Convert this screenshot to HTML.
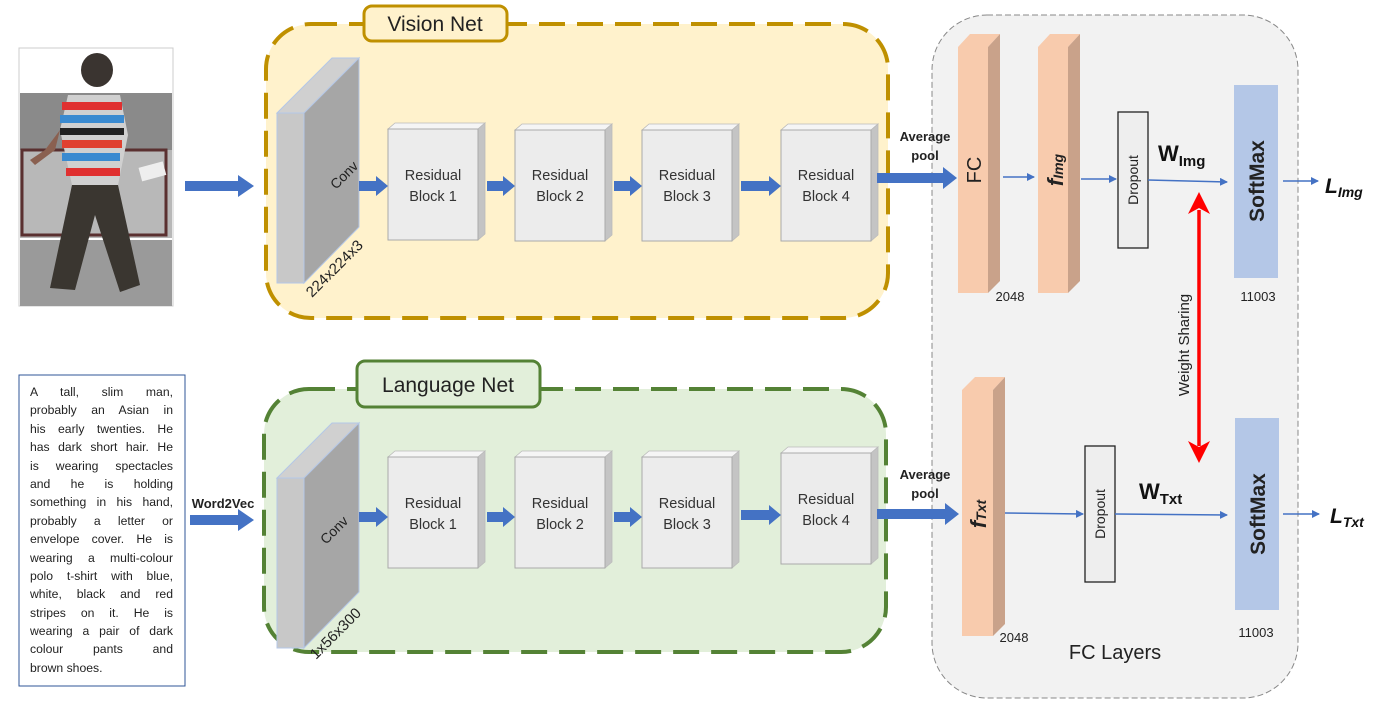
<!DOCTYPE html>
<html><head><meta charset="utf-8"><style>
html,body{margin:0;padding:0;background:#fff;width:1383px;height:703px;overflow:hidden;position:relative}
svg text{font-family:"Liberation Sans",sans-serif}
#tb{position:absolute;left:30px;top:383px;width:143px;font-family:"Liberation Sans",sans-serif;font-size:12.2px;line-height:18.4px;color:#222}
#tb div{text-align:justify;text-align-last:justify;white-space:nowrap;height:18.4px}
#tb div.l{text-align-last:left}
</style></head><body>
<svg width="1383" height="703" viewBox="0 0 1383 703" xmlns="http://www.w3.org/2000/svg" style="position:absolute;left:0;top:0">
<defs>
<marker id="ab" markerWidth="8" markerHeight="8" refX="7" refY="4" orient="auto" markerUnits="userSpaceOnUse"><path d="M0,0 L8,4 L0,8 z" fill="#4472c4"/></marker>
<g id="rb">
<polygon points="0,0 7,-6 97,-6 90,0" fill="#f5f5f5" stroke="#bbb" stroke-width="0.8"/>
<polygon points="90,0 97,-6 97,105 90,111" fill="#c4c4c4" stroke="#bbb" stroke-width="0.8"/>
<rect x="0" y="0" width="90" height="111" fill="#ececec" stroke="#aaa" stroke-width="1"/>
</g>
</defs>
<!-- photo -->
<rect x="19" y="48" width="154" height="258" fill="#fff" stroke="#ccc"/>
<rect x="20" y="93" width="152" height="60" fill="#8a8a8a"/>
<rect x="20" y="150" width="152" height="88" fill="#b8b8b8"/>
<rect x="22" y="150" width="144" height="85" fill="none" stroke="#5a3030" stroke-width="3"/>
<rect x="20" y="240" width="152" height="66" fill="#9a9a9a"/>
<ellipse cx="97" cy="70" rx="16" ry="17" fill="#3a3430"/>
<polygon points="68,95 120,95 128,135 118,185 72,185 60,130" fill="#d0d0d0"/>
<rect x="62" y="102" width="60" height="8" fill="#e03030"/>
<rect x="60" y="115" width="64" height="8" fill="#3a8ad0"/>
<rect x="60" y="128" width="64" height="7" fill="#222"/>
<rect x="62" y="140" width="60" height="8" fill="#e04030"/>
<rect x="62" y="153" width="58" height="8" fill="#3a8ad0"/>
<rect x="66" y="168" width="54" height="8" fill="#e03030"/>
<polygon points="72,185 118,185 140,285 120,292 95,215 75,290 50,288" fill="#3a3630"/>
<polygon points="60,130 45,150 30,160 35,165 55,150" fill="#8a6050"/>
<rect x="140" y="165" width="25" height="14" fill="#eee" transform="rotate(-15 150 172)"/>
<!-- text box -->
<rect x="19" y="375" width="166" height="311" fill="#fff" stroke="#2f5597" stroke-width="1"/>
<!-- FC layers container -->
<rect x="932" y="15" width="366" height="683" rx="55" fill="#f2f2f2" stroke="#888" stroke-width="1" stroke-dasharray="6,3"/>
<text x="1115" y="659" font-size="20" text-anchor="middle" fill="#222">FC Layers</text>
<!-- Vision net -->
<rect x="266" y="24" width="622" height="294" rx="45" fill="#fff2cc" stroke="#bf9000" stroke-width="4" stroke-dasharray="26,12"/>
<rect x="364" y="6" width="143" height="35" rx="8" fill="#fff2cc" stroke="#bf9000" stroke-width="3"/>
<text x="435" y="31" font-size="21" text-anchor="middle" fill="#222">Vision Net</text>
<!-- Language net -->
<rect x="264" y="389" width="622" height="263" rx="45" fill="#e2efda" stroke="#548235" stroke-width="4" stroke-dasharray="26,12"/>
<rect x="357" y="361" width="183" height="46" rx="8" fill="#e2efda" stroke="#548235" stroke-width="3"/>
<text x="448" y="392" font-size="21" text-anchor="middle" fill="#222">Language Net</text>
<!-- conv vision -->
<polygon points="277,113 332,58 359,58 304,113" fill="#d0d0d0" stroke="#b4c7e7"/>
<polygon points="304,113 359,58 359,227 304,283" fill="#a6a6a6" stroke="#b4c7e7"/>
<rect x="277" y="113" width="27" height="170" fill="#c8c8c8" stroke="#b4c7e7"/>
<text x="0" y="0" font-size="14" fill="#222" transform="translate(336,190) rotate(-45)">Conv</text>
<text x="0" y="0" font-size="15" fill="#222" transform="translate(312,298) rotate(-45)">224x224x3</text>
<!-- conv language -->
<polygon points="277,478 332,423 359,423 304,478" fill="#d0d0d0" stroke="#b4c7e7"/>
<polygon points="304,478 359,423 359,592 304,648" fill="#a6a6a6" stroke="#b4c7e7"/>
<rect x="277" y="478" width="27" height="170" fill="#c8c8c8" stroke="#b4c7e7"/>
<text x="0" y="0" font-size="14" fill="#222" transform="translate(326,545) rotate(-45)">Conv</text>
<text x="0" y="0" font-size="15" fill="#222" transform="translate(316,660) rotate(-45)">1x56x300</text>
<!-- residual blocks -->
<g font-size="14.5" fill="#333" text-anchor="middle">
<use href="#rb" x="388" y="129"/><text x="433" y="180">Residual</text><text x="433" y="201">Block 1</text>
<use href="#rb" x="515" y="130"/><text x="560" y="180">Residual</text><text x="560" y="201">Block 2</text>
<use href="#rb" x="642" y="130"/><text x="687" y="180">Residual</text><text x="687" y="201">Block 3</text>
<use href="#rb" x="781" y="130"/><text x="826" y="180">Residual</text><text x="826" y="201">Block 4</text>
<use href="#rb" x="388" y="457"/><text x="433" y="508">Residual</text><text x="433" y="529">Block 1</text>
<use href="#rb" x="515" y="457"/><text x="560" y="508">Residual</text><text x="560" y="529">Block 2</text>
<use href="#rb" x="642" y="457"/><text x="687" y="508">Residual</text><text x="687" y="529">Block 3</text>
<use href="#rb" x="781" y="453"/><text x="826" y="504">Residual</text><text x="826" y="525">Block 4</text>
</g>
<!-- thick arrows -->
<g fill="#4472c4">
<polygon points="185,181 238,181 238,175 254,186 238,197 238,191 185,191"/>
<polygon points="359,181 376,181 376,176 388,186 376,196 376,191 359,191"/>
<polygon points="487,181 503,181 503,176 515,186 503,196 503,191 487,191"/>
<polygon points="614,181 630,181 630,176 642,186 630,196 630,191 614,191"/>
<polygon points="741,181 769,181 769,176 781,186 769,196 769,191 741,191"/>
<polygon points="877,173 943,173 943,167 957,178 943,189 943,183 877,183"/>
<polygon points="190,515 238,515 238,509 254,520 238,531 238,525 190,525"/>
<polygon points="359,512 376,512 376,507 388,517 376,527 376,522 359,522"/>
<polygon points="487,512 503,512 503,507 515,517 503,527 503,522 487,522"/>
<polygon points="614,512 630,512 630,507 642,517 630,527 630,522 614,522"/>
<polygon points="741,510 769,510 769,505 781,515 769,525 769,520 741,520"/>
<polygon points="877,509 945,509 945,503 959,514 945,525 945,519 877,519"/>
</g>
<g font-size="13" font-weight="bold" fill="#222" text-anchor="middle">
<text x="925" y="141">Average</text><text x="925" y="160">pool</text>
<text x="925" y="479">Average</text><text x="925" y="498">pool</text>
<text x="223" y="508">Word2Vec</text>
</g>
<!-- FC slabs -->
<g>
<polygon points="958,47 970,34 1000,34 988,47" fill="#f8cbad"/>
<polygon points="988,47 1000,34 1000,281 988,293" fill="#c9a28a"/>
<rect x="958" y="47" width="30" height="246" fill="#f8cbad"/>
<polygon points="1038,47 1050,34 1080,34 1068,47" fill="#f8cbad"/>
<polygon points="1068,47 1080,34 1080,281 1068,293" fill="#c9a28a"/>
<rect x="1038" y="47" width="30" height="246" fill="#f8cbad"/>
<polygon points="962,390 975,377 1005,377 993,390" fill="#f8cbad"/>
<polygon points="993,390 1005,377 1005,624 993,636" fill="#c9a28a"/>
<rect x="962" y="390" width="31" height="246" fill="#f8cbad"/>
</g>
<text transform="translate(981,170) rotate(-90)" font-size="20" text-anchor="middle" fill="#222">FC</text>
<text transform="translate(1063,170) rotate(-90)" font-size="22" font-weight="bold" font-style="italic" text-anchor="middle" fill="#222">f<tspan font-size="14" dy="0">Img</tspan></text>
<text transform="translate(986,514) rotate(-90)" font-size="22" font-weight="bold" font-style="italic" text-anchor="middle" fill="#222">f<tspan font-size="14">Txt</tspan></text>
<text x="1010" y="301" font-size="13" text-anchor="middle" fill="#222">2048</text>
<text x="1014" y="642" font-size="13" text-anchor="middle" fill="#222">2048</text>
<!-- dropout -->
<rect x="1118" y="112" width="30" height="136" fill="#eee" stroke="#222" stroke-width="1.3"/>
<text transform="translate(1138,180) rotate(-90)" font-size="14" text-anchor="middle" fill="#222">Dropout</text>
<rect x="1085" y="446" width="30" height="136" fill="#eee" stroke="#222" stroke-width="1.3"/>
<text transform="translate(1105,514) rotate(-90)" font-size="14" text-anchor="middle" fill="#222">Dropout</text>
<!-- softmax -->
<rect x="1234" y="85" width="44" height="193" fill="#b4c7e7"/>
<text transform="translate(1264,181) rotate(-90)" font-size="21" font-weight="bold" text-anchor="middle" fill="#222">SoftMax</text>
<rect x="1235" y="418" width="44" height="192" fill="#b4c7e7"/>
<text transform="translate(1265,514) rotate(-90)" font-size="21" font-weight="bold" text-anchor="middle" fill="#222">SoftMax</text>
<text x="1258" y="301" font-size="13" text-anchor="middle" fill="#222">11003</text>
<text x="1256" y="637" font-size="13" text-anchor="middle" fill="#222">11003</text>
<!-- thin arrows -->
<g stroke="#4472c4" stroke-width="1.5" marker-end="url(#ab)">
<line x1="1003" y1="177" x2="1034" y2="177"/>
<line x1="1081" y1="179" x2="1116" y2="179"/>
<line x1="1148" y1="180" x2="1227" y2="182"/>
<line x1="1283" y1="181" x2="1318" y2="181"/>
<line x1="1005" y1="513" x2="1083" y2="514"/>
<line x1="1115" y1="514" x2="1227" y2="515"/>
<line x1="1283" y1="514" x2="1319" y2="514"/>
</g>
<text x="1158" y="161" font-size="22" font-weight="bold" fill="#111">W<tspan font-size="15" dy="5">Img</tspan></text>
<text x="1139" y="499" font-size="22" font-weight="bold" fill="#111">W<tspan font-size="15" dy="5">Txt</tspan></text>
<text x="1325" y="193" font-size="21" font-weight="bold" font-style="italic" fill="#111">L<tspan font-size="14" dy="4">Img</tspan></text>
<text x="1330" y="523" font-size="21" font-weight="bold" font-style="italic" fill="#111">L<tspan font-size="14" dy="4">Txt</tspan></text>
<!-- red arrow -->
<line x1="1199" y1="210" x2="1199" y2="446" stroke="#ff0000" stroke-width="3.5"/>
<polygon points="1199,192 1210,214 1199,208 1188,214" fill="#ff0000"/>
<polygon points="1199,463 1210,441 1199,447 1188,441" fill="#ff0000"/>
<text transform="translate(1189,345) rotate(-90)" font-size="15" text-anchor="middle" fill="#222">Weight Sharing</text>
</svg>
<div id="tb">
<div>A tall, slim man,</div>
<div>probably an Asian in</div>
<div>his early twenties. He</div>
<div>has dark short hair. He</div>
<div>is wearing spectacles</div>
<div>and he is holding</div>
<div>something in his hand,</div>
<div>probably a letter or</div>
<div>envelope cover. He is</div>
<div>wearing a multi-colour</div>
<div>polo t-shirt with blue,</div>
<div>white, black and red</div>
<div>stripes on it. He is</div>
<div>wearing a pair of dark</div>
<div>colour pants and</div>
<div class="l">brown shoes.</div>
</div>
</body></html>
